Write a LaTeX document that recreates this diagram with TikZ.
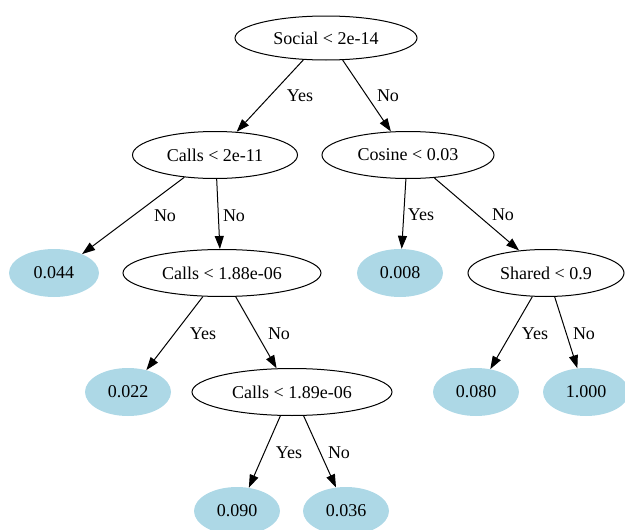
\documentclass[tikz,border=0pt]{standalone}
\usepackage{fontspec}
\setmainfont{Liberation Serif}
\usepackage{xcolor}
\usetikzlibrary{shapes,arrows.meta}

\definecolor{leafblue}{RGB}{173,216,230}

\begin{document}
\begin{tikzpicture}[x=1pt,y=-1pt,
    every node/.style={font=\fontsize{18}{21}\selectfont},
    split/.style={draw,ellipse,inner sep=0pt,minimum height=47pt,line width=1pt},
    leaf/.style={ellipse,fill=leafblue,inner sep=0pt,minimum width=86pt,minimum height=48pt},
    branch/.style={line width=1pt,-{Triangle[length=13pt,width=9pt]}},
    lbl/.style={inner sep=0pt}]

        % Frame
        \useasboundingbox (0,0) rectangle (625,530);
        \clip (0,0) rectangle (625,530);

        % Splits
        \node[split,minimum width=182pt,minimum height=44pt] (social) at (326,38) {Social < 2e-14};
        \node[split,minimum width=165pt] (callsA) at (215,155) {Calls < 2e-11};
        \node[split,minimum width=172pt] (cosine) at (408,155) {Cosine < 0.03};
        \node[split,minimum width=198pt] (callsB) at (222,273) {Calls < 1.88e-06};
        \node[split,minimum width=156pt] (shared) at (546,273) {Shared < 0.9};
        \node[split,minimum width=200pt] (callsC) at (292,392) {Calls < 1.89e-06};

        % Leaves
        \node[leaf,minimum width=90pt] (v044) at (54,273) {0.044};
        \node[leaf] (v008) at (400,273) {0.008};
        \node[leaf] (v022) at (128,392) {0.022};
        \node[leaf] (v080) at (476,392) {0.080};
        \node[leaf] (v1000) at (586,392) {1.000};
        \node[leaf] (v090) at (237,511) {0.090};
        \node[leaf] (v036) at (346,511) {0.036};

        % Branches
        \draw[branch] (social.224) -- (callsA.47);
        \draw[branch] (social.307) -- (cosine.126);
        \draw[branch] (callsA.216) -- (v044.34);
        \draw[branch] (callsA.274) -- (callsB.95);
        \draw[branch] (cosine.265) -- (v008.86);
        \draw[branch] (cosine.319) -- (shared.140);
        \draw[branch] (callsB.231) -- (v022.50);
        \draw[branch] (callsB.300) -- (callsC.123);
        \draw[branch] (shared.240) -- (v080.58);
        \draw[branch] (shared.290) -- (v1000.110);
        \draw[branch] (callsC.244) -- (v090.63);
        \draw[branch] (callsC.296) -- (v036.113);

        % Labels
        \node[lbl] (y1) at (300,96) {Yes};
        \node[lbl] (n1) at (388,96) {No};
        \node[lbl] (n2) at (165,216) {No};
        \node[lbl] (n3) at (234,216) {No};
        \node[lbl] (y2) at (421,215) {Yes};
        \node[lbl] (n4) at (503,215) {No};
        \node[lbl] (y3) at (203,334) {Yes};
        \node[lbl] (n5) at (279,334) {No};
        \node[lbl] (y4) at (535,334) {Yes};
        \node[lbl] (n6) at (584,334) {No};
        \node[lbl] (y5) at (289,453) {Yes};
        \node[lbl] (n7) at (339,453) {No};
    \end{tikzpicture}
\end{document}
